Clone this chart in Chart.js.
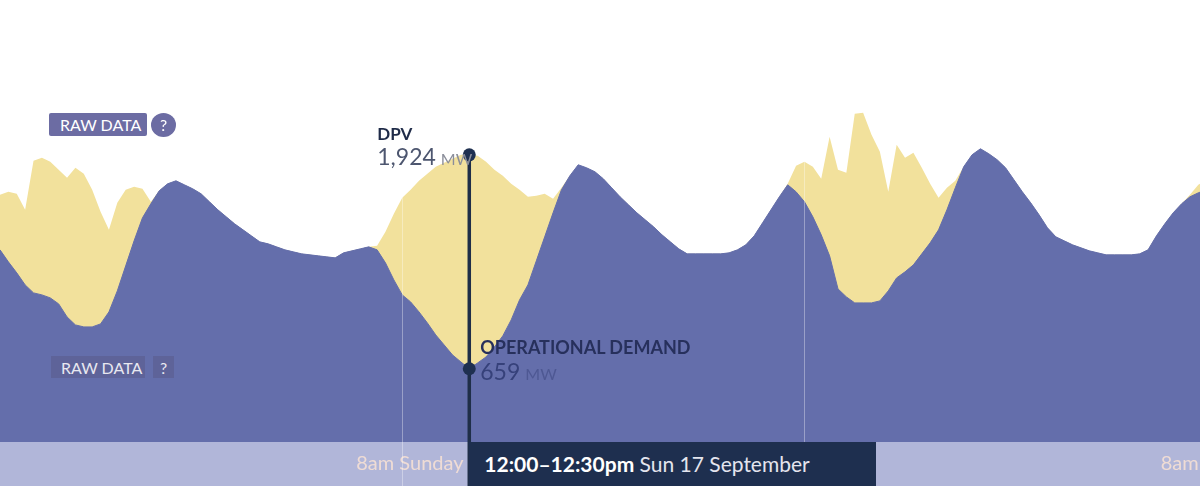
<!DOCTYPE html>
<html>
<head>
<meta charset="utf-8">
<script src="https://cdn.jsdelivr.net/npm/chart.js@4.4.1/dist/chart.umd.min.js"></script>
<style>
html,body{margin:0;padding:0;background:#fff;}
#wrap{position:relative;width:1200px;height:495px;overflow:hidden;font-family:Lato,"Noto Sans",sans-serif;}
canvas{position:absolute;left:0;top:0;}
.abs{position:absolute;white-space:nowrap;line-height:1;}
.badge,.q{position:absolute;box-sizing:border-box;font-size:16px;white-space:nowrap;}
.b1{left:49px;top:113px;width:98px;height:23px;line-height:24px;padding-left:11px;background:#6c6ca3;color:#fff;border-radius:2px;}
.q1{left:151px;top:113px;width:25px;height:24px;line-height:24px;text-align:center;background:#6c6ca3;color:#fff;border-radius:50%;}
.b2{left:51px;top:356px;width:94px;height:22px;line-height:23px;padding-left:10px;background:#5e6399;color:#e8e8f0;}
.q2{left:153px;top:356px;width:21px;height:22px;line-height:23px;text-align:center;background:#5e6399;color:#e8e8f0;}
#dpvName{font-size:17px;font-weight:700;color:#1f2b48;}
#dpvVal{font-size:23px;color:#4d566f;}
#odName{font-size:18px;font-weight:700;color:#27305c;}
#odVal{font-size:23px;color:#36417a;}
.unit{font-size:16px;margin-left:5px;}
#dpvVal .unit{color:#8b8e9a;}
#odVal .unit{color:#4e5893;}
#timeBox{position:absolute;box-sizing:border-box;background:#1e2f4f;color:#e4e5ee;font-size:21px;line-height:1;padding-left:15px;padding-top:11px;white-space:nowrap;}
#timeBox b{color:#fff;font-weight:700;}
</style>
</head>
<body>
<div id="wrap">
  <canvas id="chart" width="1200" height="495"></canvas>
  <div class="badge b1">RAW DATA</div><div class="q q1">?</div>
  <div class="badge b2">RAW DATA</div><div class="q q2">?</div>
  <div id="dpvName" class="abs">DPV</div>
  <div id="dpvVal" class="abs"><span id="dpvNum"></span><span class="unit">MW</span></div>
  <div id="odName" class="abs">OPERATIONAL DEMAND</div>
  <div id="odVal" class="abs"><span id="odNum"></span><span class="unit">MW</span></div>
  <div id="timeBox"><b id="tbTime"></b> <span id="tbDate"></span></div>
</div>
<script>
// Half-hourly slots starting 8:00am Saturday 16 September (slot 0)
const slotCount = 145;

// Operational demand (MW), per half-hour slot
const operationalDemand = [
  1728,1620,1521,1413,1341,1323,1296,1242,1125,1053,
  1035,1035,1062,1170,1359,1584,1809,2016,2142,2259,
  2322,2349,2313,2277,2232,2160,2088,2025,1962,1908,
  1854,1800,1782,1755,1728,1710,1692,1683,1674,1665,
  1656,1701,1719,1737,1755,1728,1611,1458,1323,1260,
  1170,1071,963,873,783,720,659,711,765,855,
  954,1098,1278,1413,1629,1845,2061,2268,2394,2493,
  2466,2430,2367,2286,2205,2133,2061,1998,1935,1863,
  1800,1737,1692,1692,1692,1692,1692,1701,1728,1773,
  1854,1971,2088,2205,2313,2250,2160,2025,1863,1674,
  1377,1305,1251,1251,1251,1269,1359,1476,1530,1593,
  1692,1791,1908,2088,2286,2475,2583,2637,2592,2538,
  2466,2358,2250,2151,2043,1926,1845,1809,1773,1746,
  1719,1701,1683,1683,1683,1683,1692,1728,1854,1962,
  2061,2142,2205,2241,2268
];

// Distributed PV (MW), per half-hour slot
const dpv = [
  495,630,711,675,1188,1233,1224,1206,1251,1413,
  1377,1233,1008,738,792,684,486,261,18,0,
  0,0,0,0,0,0,0,0,0,0,
  0,0,0,0,0,0,0,0,0,0,
  0,0,0,0,0,36,279,594,873,1008,
  1179,1341,1512,1638,1764,1863,1924,1863,1755,1593,
  1440,1224,990,792,585,387,126,18,0,0,
  0,0,0,0,0,0,0,0,0,0,
  0,0,0,0,0,0,0,0,0,0,
  0,0,0,0,9,234,360,450,504,1071,
  1071,1116,1701,1710,1512,1341,891,1197,1026,1008,
  774,531,288,198,63,0,0,0,0,0,
  0,0,0,0,0,0,0,0,0,0,
  0,0,0,0,0,0,0,0,0,0,
  0,0,18,72,90
];

// x-axis ticks (8am each day)
const tickSlots = [48, 96, 144];
const tickLabels = ['8am Sunday', '8am Monday', '8am Tuesday'];

// Hovered slot
const cursorSlot = 56;
const cursorTime = '12:00–12:30pm';
const cursorDate = 'Sun 17 September';

const slots = Array.from({length: slotCount}, (_, i) => i);
const demandPoints = slots.map(i => ({x: i, y: operationalDemand[i]}));
const totalPoints = slots.map(i => ({x: i, y: operationalDemand[i] + dpv[i]}));

const BLUE = '#646eab';
const YELLOW = '#f2e19c';

const overlayPlugin = {
  id: 'overlay',
  afterDatasetsDraw(chart) {
    const {ctx, chartArea} = chart;
    const xs = chart.scales.x;
    ctx.save();
    ctx.strokeStyle = 'rgba(255,255,255,0.35)';
    ctx.lineWidth = 1;
    xs.ticks.forEach(t => {
      const px = Math.round(xs.getPixelForValue(t.value)) + 0.5;
      ctx.beginPath();
      ctx.moveTo(px, chartArea.top);
      ctx.lineTo(px, xs.bottom);
      ctx.stroke();
    });
    const pD = chart.getDatasetMeta(0).data[cursorSlot];
    const pT = chart.getDatasetMeta(1).data[cursorSlot];
    ctx.strokeStyle = '#1f2e48';
    ctx.lineWidth = 3.5;
    ctx.beginPath();
    ctx.moveTo(pD.x, pT.y);
    ctx.lineTo(pD.x, xs.bottom);
    ctx.stroke();
    ctx.fillStyle = '#1f3050';
    [pT, pD].forEach(p => {
      ctx.beginPath();
      ctx.arc(p.x, p.y, 6.5, 0, Math.PI * 2);
      ctx.fill();
    });
    ctx.restore();
  }
};

Chart.defaults.font.family = 'Lato';

const chart = new Chart(document.getElementById('chart'), {
  type: 'line',
  data: {
    datasets: [
      {
        label: 'Operational demand',
        data: demandPoints,
        backgroundColor: BLUE,
        borderColor: BLUE,
        borderWidth: 1,
        fill: 'origin',
        pointRadius: 0,
        tension: 0
      },
      {
        label: 'DPV',
        data: totalPoints,
        backgroundColor: YELLOW,
        borderColor: 'rgba(0,0,0,0)',
        borderWidth: 0,
        fill: 'origin',
        pointRadius: 0,
        tension: 0
      }
    ]
  },
  options: {
    responsive: false,
    animation: false,
    devicePixelRatio: 1,
    events: [],
    layout: {padding: {left: 0, right: 0, top: 0, bottom: 9}},
    plugins: {legend: {display: false}, tooltip: {enabled: false}},
    scales: {
      x: {
        type: 'linear',
        min: 0,
        max: 143.2,
        backgroundColor: '#b1b6d9',
        grid: {display: false, drawTicks: false},
        border: {display: false},
        afterBuildTicks: s => { s.ticks = tickSlots.map(v => ({value: v})); },
        afterFit: s => { s.height = 44; s.paddingLeft = 0; s.paddingRight = 0; },
        ticks: {
          autoSkip: false,
          maxRotation: 0,
          minRotation: 0,
          align: 'start',
          labelOffset: -46,
          padding: 10,
          color: '#efdcd5',
          font: {size: 20, family: 'Lato'},
          callback: v => tickLabels[tickSlots.indexOf(v)]
        }
      },
      y: {display: false, min: 0, max: 3975, stacked: false}
    }
  },
  plugins: [overlayPlugin]
});

// Position annotation texts from the chart's own point positions
const pD = chart.getDatasetMeta(0).data[cursorSlot];
const pT = chart.getDatasetMeta(1).data[cursorSlot];
const xs = chart.scales.x;
const fmt = n => n.toLocaleString('en-US');

function place(id, left, top) {
  const el = document.getElementById(id);
  el.style.left = left + 'px';
  el.style.top = top + 'px';
}
document.getElementById('dpvNum').textContent = fmt(dpv[cursorSlot]);
document.getElementById('odNum').textContent = fmt(operationalDemand[cursorSlot]);
place('dpvName', pT.x - 92, pT.y - 30);
place('dpvVal', pT.x - 92, pT.y - 9.5);
place('odName', pD.x + 11, pD.y - 31);
place('odVal', pD.x + 11, pD.y - 8.5);

const tb = document.getElementById('timeBox');
document.getElementById('tbTime').textContent = cursorTime;
document.getElementById('tbDate').textContent = cursorDate;
tb.style.left = pD.x + 'px';
tb.style.top = xs.top + 'px';
tb.style.width = '407px';
tb.style.height = (xs.bottom - xs.top) + 'px';
</script>
</body>
</html>
